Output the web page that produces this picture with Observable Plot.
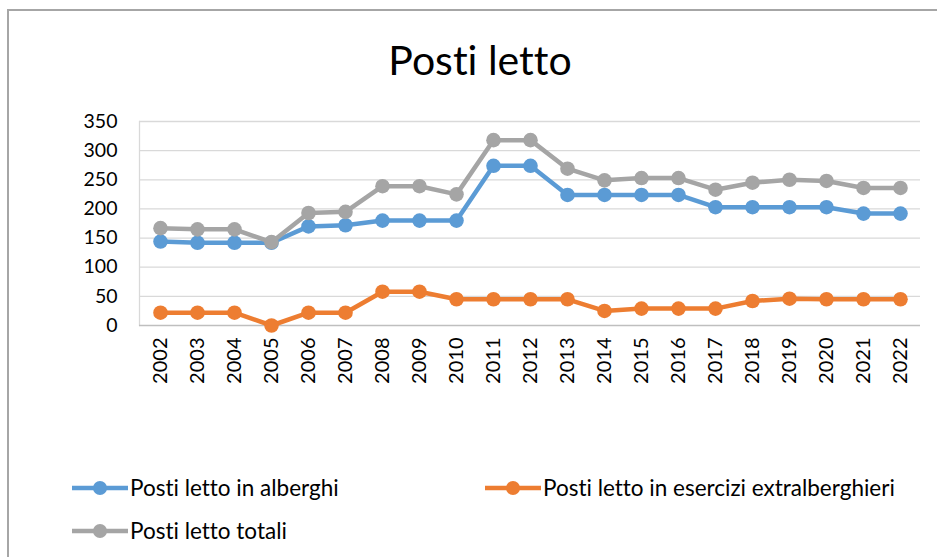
<!DOCTYPE html>
<html>
<head>
<meta charset="utf-8">
<script src="https://cdn.jsdelivr.net/npm/d3@7"></script>
<script src="https://cdn.jsdelivr.net/npm/@observablehq/plot@0.6"></script>
<style>
  html, body { margin: 0; padding: 0; background: #fff; overflow: hidden; }
  body { width: 937px; height: 557px; position: relative; font-family: Lato, "Liberation Sans", sans-serif; font-variant-ligatures: none; font-feature-settings: "liga" 0, "clig" 0; }
  svg, svg text { font-variant-ligatures: none; font-feature-settings: "liga" 0, "clig" 0; }
  #frame { position: absolute; left: 7px; top: 9px; width: 1000px; height: 1000px; border-left: 2px solid #a6a6a6; border-top: 2px solid #a6a6a6; box-sizing: border-box; }
  #title { position: absolute; left: 0; width: 960px; top: 39px; text-align: center; font-size: 41px; color: #000; line-height: 1; }
  #chart { position: absolute; left: 0; top: 100px; }
  .leg { position: absolute; display: flex; align-items: center; font-size: 22.5px; color: #000; }
  .leg svg { margin-right: 2px; }
</style>
</head>
<body>
<div id="frame"></div>
<div id="title">Posti letto</div>
<div id="chart"></div>
<div id="legend"></div>
<script>
const years = ["2002","2003","2004","2005","2006","2007","2008","2009","2010","2011","2012","2013","2014","2015","2016","2017","2018","2019","2020","2021","2022"];
const alberghi = [144,142,142,142,170,172,180,180,180,274,274,224,224,224,224,203,203,203,203,192,192];
const extralberghieri = [22,22,22,0,22,22,58,58,45,45,45,45,25,29,29,29,42,46,45,45,45];
const totali = [167,165,165,143,193,195,239,239,225,318,318,269,249,253,253,233,245,250,248,236,236];
const yTicks = [0,50,100,150,200,250,300,350];
const seriesNames = ["Posti letto in alberghi","Posti letto in esercizi extralberghieri","Posti letto totali"];
const seriesColors = ["#5b9bd5","#ed7d31","#a5a5a5"];

const seriesValues = [alberghi, extralberghieri, totali];
const data = [];
seriesNames.forEach((name, i) => {
  years.forEach((yr, j) => data.push({series: name, year: yr, value: seriesValues[i][j]}));
});

const chart = Plot.plot({
  width: 937,
  height: 300,
  marginLeft: 139,
  marginRight: 17,
  marginTop: 21,
  marginBottom: 75,
  style: {fontFamily: "Lato, 'Liberation Sans', sans-serif", fontSize: "19px", color: "#000", background: "transparent"},
  x: {type: "point", domain: years, padding: 0.5, label: null},
  y: {domain: [0, 350], ticks: yTicks, label: null},
  color: {domain: seriesNames, range: seriesColors},
  marks: [
    Plot.gridY(yTicks.filter(d => d > 0), {stroke: "#d9d9d9", strokeOpacity: 1, strokeWidth: 1.3}),
    Plot.frame({anchor: "left", stroke: "#d9d9d9", strokeWidth: 1.3}),
    Plot.ruleY([0], {stroke: "#bfbfbf", strokeWidth: 1.5}),
    Plot.axisY({ticks: yTicks, tickSize: 0, tickPadding: 22, fontSize: 19.5, label: null}),
    Plot.axisX({tickSize: 0, tickPadding: 12, tickRotate: -90, fontSize: 20, label: null}),
    ...seriesNames.flatMap((name, i) => {
      const rows = data.filter(d => d.series === name);
      return [
        Plot.line(rows, {x: "year", y: "value", stroke: seriesColors[i], strokeWidth: 4.5}),
        Plot.dot(rows, {x: "year", y: "value", fill: seriesColors[i], r: 7.3})
      ];
    })
  ]
});
document.getElementById("chart").appendChild(chart);

const legendPos = [{left: 72, top: 474}, {left: 485, top: 474}, {left: 72, top: 517}];
const legend = document.getElementById("legend");
seriesNames.forEach((name, i) => {
  const div = document.createElement("div");
  div.className = "leg";
  div.style.left = legendPos[i].left + "px";
  div.style.top = legendPos[i].top + "px";
  div.innerHTML = `<svg width="56" height="26"><line x1="0" x2="56" y1="13" y2="13" stroke="${seriesColors[i]}" stroke-width="4.5"/><circle cx="28" cy="13" r="7" fill="${seriesColors[i]}"/></svg><span>${name}</span>`;
  legend.appendChild(div);
});
</script>
</body>
</html>
